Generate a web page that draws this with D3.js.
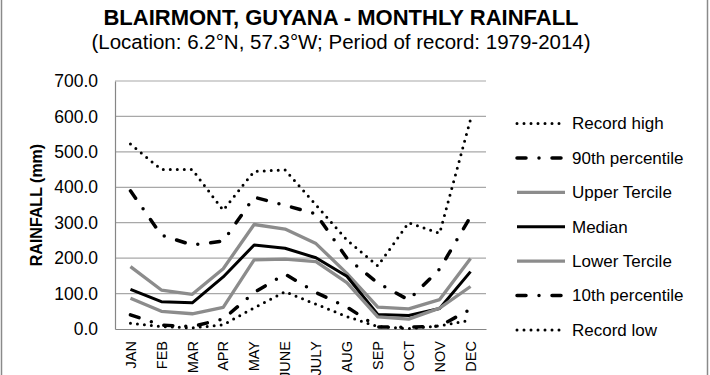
<!DOCTYPE html>
<html lang="en">
<head>
    <meta charset="UTF-8">
    <title>Blairmont monthly rainfall</title>
    <style>
        *{
            margin: 0;
            padding: 0;
            box-sizing: border-box;
        }
        body{
            background: #fff;
        }
        #main{
            width: 710px;
            height: 375px;
        }
        text{
            font-family: "Liberation Sans", Arial, sans-serif;
            fill: #000;
        }
    </style>
</head>
<body>
<div id="main"></div>
<script src="https://d3js.org/d3.v7.min.js"></script>
<script>
    /*===========1-data===========*/
    const months=['JAN','FEB','MAR','APR','MAY','JUNE','JULY','AUG','SEP','OCT','NOV','DEC']

    /*monthly rainfall (mm)*/
    const recordHigh=[522,450,450,335,445,449,350,251,178,300,270,592]
    const p90=[390,265,237,248,372,349,325,200,130,82,169,317]
    const upperTercile=[176,110,98,170,295,282,241,157,62,57,83,199]
    const median=[112,77,74,147,237,228,201,149,41,38,58,162]
    const lowerTercile=[87,50,43,61,195,197,190,131,34,28,59,120]
    const p10=[40,11,7,28,103,155,103,62,6,5,8,56]
    const recordLow=[16,7,3,12,60,105,70,35,7,1,9,25]

    const seriesNames=['Record high','90th percentile','Upper Tercile','Median','Lower Tercile','10th percentile','Record low']
    const yTicks=[0,100,200,300,400,500,600,700]

    const titleText='BLAIRMONT, GUYANA - MONTHLY RAINFALL'
    const subtitleText='(Location: 6.2°N, 57.3°W; Period of record: 1979-2014)'
    const yAxisTitle='RAINFALL (mm)'

    /*===========2-container===========*/
    const width=710
    const height=375
    const svg=d3.select('#main').append('svg')
        .attr('width',width)
        .attr('height',height)
        .attr('viewBox',`0 0 ${width} ${height}`)

    /*plot box*/
    const plot={left:115,right:486,top:81,bottom:329}

    /*line styles, one per series (same order as seriesNames)*/
    const dotted={stroke:'#000',width:3,dash:'0,7'}
    const dashDot={stroke:'#000',width:3.5,dash:'9,13,0,13'}
    const styles=[
        dotted,
        dashDot,
        {stroke:'#8c8c8c',width:3.3,dash:null},
        {stroke:'#000',width:3,dash:null},
        {stroke:'#8c8c8c',width:3.3,dash:null},
        dashDot,
        dotted
    ]
    const seriesValues=[recordHigh,p90,upperTercile,median,lowerTercile,p10,recordLow]
    const series=seriesNames.map((name,i)=>({name,values:seriesValues[i],style:styles[i]}))

    /*===========3-scales===========*/
    const xScale=d3.scaleBand()
        .domain(months)
        .range([plot.left,plot.right])
    const yScale=d3.scaleLinear()
        .domain([0,700])
        .range([plot.bottom,plot.top])

    /*===========4-frame, grid, axes===========*/
    svg.append('rect')
        .attr('x',1.5).attr('y',-5)
        .attr('width',706).attr('height',390)
        .attr('fill','none')
        .attr('stroke','#8a8a8a')
        .attr('stroke-width',1.5)

    svg.append('g')
        .selectAll('line')
        .data(yTicks.filter(d=>d>0))
        .join('line')
        .attr('x1',plot.left).attr('x2',plot.right)
        .attr('y1',d=>yScale(d)).attr('y2',d=>yScale(d))
        .attr('stroke','#a8a8a8')
        .attr('stroke-width',1.2)

    /*y axis*/
    const yAxis=svg.append('g')
        .attr('transform',`translate(${plot.left},0)`)
        .call(d3.axisLeft(yScale).tickValues(yTicks).tickFormat(d3.format('.1f')).tickSize(0).tickPadding(17))
    yAxis.select('.domain').attr('stroke','#868686').attr('stroke-width',1.2)
    yAxis.selectAll('text')
        .style('font-size','17.5px')
        .style('font-family','"Liberation Sans", Arial, sans-serif')

    /*x axis*/
    const xAxis=svg.append('g')
        .attr('transform',`translate(0,${plot.bottom})`)
        .call(d3.axisBottom(xScale).tickSize(0).tickSizeOuter(0))
    xAxis.select('.domain').attr('stroke','#868686').attr('stroke-width',1.2)
    xAxis.selectAll('text')
        .attr('transform','rotate(-90)')
        .attr('x',-12)
        .attr('y',0)
        .attr('dy','0.36em')
        .attr('text-anchor','end')
        .style('font-size','14.5px')
        .style('font-family','"Liberation Sans", Arial, sans-serif')

    /*===========5-series lines===========*/
    const lineGen=d3.line()
        .x((d,i)=>xScale(months[i])+xScale.bandwidth()/2)
        .y(d=>yScale(d))

    svg.append('g')
        .selectAll('path')
        .data(series)
        .join('path')
        .attr('d',d=>lineGen(d.values))
        .attr('fill','none')
        .attr('stroke',d=>d.style.stroke)
        .attr('stroke-width',d=>d.style.width)
        .attr('stroke-dasharray',d=>d.style.dash)
        .attr('stroke-linecap',d=>d.style.dash?'round':'butt')
        .attr('stroke-linejoin','round')

    /*===========6-legend===========*/
    const legend=svg.append('g')
        .selectAll('g')
        .data(series)
        .join('g')
        .attr('transform',(d,i)=>`translate(517,${123.5+i*34.4})`)
    legend.append('line')
        .attr('x1',0).attr('x2',d=>d.style.dash?46:48)
        .attr('y1',0).attr('y2',0)
        .attr('stroke',d=>d.style.stroke)
        .attr('stroke-width',d=>d.style.width)
        .attr('stroke-dasharray',d=>d.style.dash)
        .attr('stroke-linecap',d=>d.style.dash?'round':'butt')
    legend.append('text')
        .attr('x',55)
        .attr('y',0)
        .attr('dy','0.35em')
        .style('font-size','17px')
        .text(d=>d.name)

    /*===========7-titles===========*/
    svg.append('text')
        .attr('x',341).attr('y',25)
        .attr('text-anchor','middle')
        .style('font-size','22px')
        .style('font-weight','bold')
        .text(titleText)
    svg.append('text')
        .attr('x',341).attr('y',49)
        .attr('text-anchor','middle')
        .style('font-size','20.5px')
        .text(subtitleText)
    svg.append('text')
        .attr('transform','translate(42,205) rotate(-90)')
        .attr('text-anchor','middle')
        .style('font-size','16px')
        .style('font-weight','bold')
        .text(yAxisTitle)
</script>
</body>
</html>
